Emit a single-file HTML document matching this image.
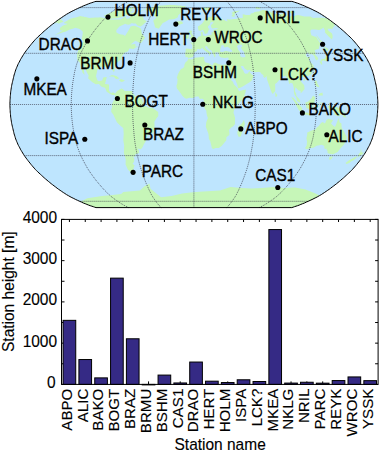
<!DOCTYPE html>
<html><head><meta charset="utf-8"><style>
html,body{margin:0;padding:0;background:#fff;}
svg{display:block;}
text{font-family:"Liberation Sans",sans-serif;font-size:15.3px;fill:#000;stroke:#000;stroke-width:0.35px;}
.ax{font-size:15.5px;stroke-width:0.12px;}
.xt{font-size:15.1px;stroke-width:0.12px;}
</style></head><body>
<svg width="379" height="455" viewBox="0 0 379 455">
<path d="M96.0 207.6L94.7 207.2L93.3 206.7L91.8 206.2L90.2 205.7L88.6 205.1L86.9 204.4L85.2 203.7L83.3 203.0L81.5 202.1L79.6 201.3L77.7 200.4L75.7 199.5L73.8 198.5L71.9 197.6L70.0 196.6L68.3 195.6L66.5 194.6L64.9 193.5L63.3 192.5L61.7 191.4L60.1 190.3L58.6 189.3L57.1 188.2L55.6 187.0L54.1 185.9L52.7 184.8L51.2 183.7L49.8 182.5L48.4 181.4L47.0 180.2L45.6 179.0L44.2 177.8L42.9 176.6L41.6 175.4L40.3 174.2L39.0 173.0L37.7 171.8L36.5 170.6L35.3 169.4L34.2 168.1L33.1 166.9L32.0 165.6L31.0 164.4L30.0 163.1L29.0 161.9L28.0 160.6L27.1 159.4L26.1 158.1L25.2 156.8L24.3 155.6L23.5 154.3L22.7 153.0L21.9 151.7L21.2 150.5L20.4 149.2L19.8 147.9L19.1 146.6L18.4 145.4L17.8 144.1L17.3 142.8L16.7 141.5L16.2 140.2L15.7 139.0L15.3 137.7L14.9 136.4L14.5 135.1L14.1 133.9L13.8 132.6L13.5 131.3L13.2 130.0L12.9 128.7L12.6 127.5L12.3 126.2L12.0 124.9L11.7 123.6L11.5 122.3L11.3 121.1L11.1 119.8L10.9 118.5L10.7 117.2L10.6 116.0L10.5 114.7L10.4 113.4L10.2 112.1L10.2 110.8L10.1 109.6L10.0 108.3L10.0 107.0L9.9 105.7L9.9 104.5L9.9 103.2L10.0 101.9L10.0 100.6L10.1 99.3L10.2 98.1L10.2 96.8L10.4 95.5L10.5 94.2L10.6 92.9L10.7 91.7L10.9 90.4L11.1 89.1L11.3 87.8L11.5 86.6L11.7 85.3L12.0 84.0L12.3 82.7L12.6 81.4L12.9 80.2L13.2 78.9L13.5 77.6L13.8 76.3L14.1 75.0L14.5 73.8L14.9 72.5L15.3 71.2L15.7 69.9L16.2 68.7L16.7 67.4L17.3 66.1L17.8 64.8L18.4 63.5L19.1 62.3L19.8 61.0L20.4 59.7L21.2 58.4L21.9 57.2L22.7 55.9L23.5 54.6L24.3 53.3L25.2 52.1L26.1 50.8L27.1 49.5L28.0 48.3L29.0 47.0L30.0 45.8L31.0 44.5L32.0 43.3L33.1 42.0L34.2 40.8L35.3 39.5L36.5 38.3L37.7 37.1L39.0 35.9L40.3 34.7L41.6 33.5L42.9 32.3L44.2 31.1L45.6 29.9L47.0 28.7L48.4 27.5L49.8 26.4L51.2 25.2L52.7 24.1L54.1 23.0L55.6 21.9L57.1 20.7L58.6 19.6L60.1 18.6L61.7 17.5L63.3 16.4L64.9 15.4L66.5 14.3L68.3 13.3L70.0 12.3L71.9 11.3L73.8 10.4L75.7 9.4L77.7 8.5L79.6 7.6L81.5 6.8L83.3 5.9L85.2 5.2L86.9 4.5L88.6 3.8L90.2 3.2L91.8 2.7L93.3 2.2L94.7 1.7L96.0 1.4L291.8 1.4L293.1 1.7L294.5 2.2L296.0 2.7L297.6 3.2L299.2 3.8L300.9 4.5L302.6 5.2L304.5 5.9L306.3 6.8L308.2 7.6L310.1 8.5L312.1 9.4L314.0 10.4L315.9 11.3L317.8 12.3L319.5 13.3L321.3 14.3L322.9 15.4L324.5 16.4L326.1 17.5L327.7 18.6L329.2 19.6L330.7 20.7L332.2 21.9L333.7 23.0L335.1 24.1L336.6 25.2L338.0 26.4L339.4 27.5L340.8 28.7L342.2 29.9L343.6 31.1L344.9 32.3L346.2 33.5L347.5 34.7L348.8 35.9L350.1 37.1L351.3 38.3L352.5 39.5L353.6 40.8L354.7 42.0L355.8 43.3L356.8 44.5L357.8 45.8L358.8 47.0L359.8 48.3L360.7 49.5L361.7 50.8L362.6 52.1L363.5 53.3L364.3 54.6L365.1 55.9L365.9 57.2L366.6 58.4L367.4 59.7L368.0 61.0L368.7 62.3L369.4 63.5L370.0 64.8L370.5 66.1L371.1 67.4L371.6 68.7L372.1 69.9L372.5 71.2L372.9 72.5L373.3 73.8L373.7 75.0L374.0 76.3L374.3 77.6L374.6 78.9L374.9 80.2L375.2 81.4L375.5 82.7L375.8 84.0L376.1 85.3L376.3 86.6L376.5 87.8L376.7 89.1L376.9 90.4L377.1 91.7L377.2 92.9L377.3 94.2L377.4 95.5L377.6 96.8L377.6 98.1L377.7 99.3L377.8 100.6L377.8 101.9L377.9 103.2L377.9 104.5L377.9 105.7L377.8 107.0L377.8 108.3L377.7 109.6L377.6 110.8L377.6 112.1L377.4 113.4L377.3 114.7L377.2 116.0L377.1 117.2L376.9 118.5L376.7 119.8L376.5 121.1L376.3 122.3L376.1 123.6L375.8 124.9L375.5 126.2L375.2 127.5L374.9 128.7L374.6 130.0L374.3 131.3L374.0 132.6L373.7 133.9L373.3 135.1L372.9 136.4L372.5 137.7L372.1 139.0L371.6 140.2L371.1 141.5L370.5 142.8L370.0 144.1L369.4 145.4L368.7 146.6L368.0 147.9L367.4 149.2L366.6 150.5L365.9 151.7L365.1 153.0L364.3 154.3L363.5 155.6L362.6 156.8L361.7 158.1L360.7 159.4L359.8 160.6L358.8 161.9L357.8 163.1L356.8 164.4L355.8 165.6L354.7 166.9L353.6 168.1L352.5 169.4L351.3 170.6L350.1 171.8L348.8 173.0L347.5 174.2L346.2 175.4L344.9 176.6L343.6 177.8L342.2 179.0L340.8 180.2L339.4 181.4L338.0 182.5L336.6 183.7L335.1 184.8L333.7 185.9L332.2 187.0L330.7 188.2L329.2 189.3L327.7 190.3L326.1 191.4L324.5 192.5L322.9 193.5L321.3 194.6L319.5 195.6L317.8 196.6L315.9 197.6L314.0 198.5L312.1 199.5L310.1 200.4L308.2 201.3L306.3 202.1L304.5 203.0L302.6 203.7L300.9 204.4L299.2 205.1L297.6 205.7L296.0 206.2L294.5 206.7L293.1 207.2L291.8 207.6Z" fill="#bee5fe"/>
<clipPath id="c"><path d="M96.0 207.6L94.7 207.2L93.3 206.7L91.8 206.2L90.2 205.7L88.6 205.1L86.9 204.4L85.2 203.7L83.3 203.0L81.5 202.1L79.6 201.3L77.7 200.4L75.7 199.5L73.8 198.5L71.9 197.6L70.0 196.6L68.3 195.6L66.5 194.6L64.9 193.5L63.3 192.5L61.7 191.4L60.1 190.3L58.6 189.3L57.1 188.2L55.6 187.0L54.1 185.9L52.7 184.8L51.2 183.7L49.8 182.5L48.4 181.4L47.0 180.2L45.6 179.0L44.2 177.8L42.9 176.6L41.6 175.4L40.3 174.2L39.0 173.0L37.7 171.8L36.5 170.6L35.3 169.4L34.2 168.1L33.1 166.9L32.0 165.6L31.0 164.4L30.0 163.1L29.0 161.9L28.0 160.6L27.1 159.4L26.1 158.1L25.2 156.8L24.3 155.6L23.5 154.3L22.7 153.0L21.9 151.7L21.2 150.5L20.4 149.2L19.8 147.9L19.1 146.6L18.4 145.4L17.8 144.1L17.3 142.8L16.7 141.5L16.2 140.2L15.7 139.0L15.3 137.7L14.9 136.4L14.5 135.1L14.1 133.9L13.8 132.6L13.5 131.3L13.2 130.0L12.9 128.7L12.6 127.5L12.3 126.2L12.0 124.9L11.7 123.6L11.5 122.3L11.3 121.1L11.1 119.8L10.9 118.5L10.7 117.2L10.6 116.0L10.5 114.7L10.4 113.4L10.2 112.1L10.2 110.8L10.1 109.6L10.0 108.3L10.0 107.0L9.9 105.7L9.9 104.5L9.9 103.2L10.0 101.9L10.0 100.6L10.1 99.3L10.2 98.1L10.2 96.8L10.4 95.5L10.5 94.2L10.6 92.9L10.7 91.7L10.9 90.4L11.1 89.1L11.3 87.8L11.5 86.6L11.7 85.3L12.0 84.0L12.3 82.7L12.6 81.4L12.9 80.2L13.2 78.9L13.5 77.6L13.8 76.3L14.1 75.0L14.5 73.8L14.9 72.5L15.3 71.2L15.7 69.9L16.2 68.7L16.7 67.4L17.3 66.1L17.8 64.8L18.4 63.5L19.1 62.3L19.8 61.0L20.4 59.7L21.2 58.4L21.9 57.2L22.7 55.9L23.5 54.6L24.3 53.3L25.2 52.1L26.1 50.8L27.1 49.5L28.0 48.3L29.0 47.0L30.0 45.8L31.0 44.5L32.0 43.3L33.1 42.0L34.2 40.8L35.3 39.5L36.5 38.3L37.7 37.1L39.0 35.9L40.3 34.7L41.6 33.5L42.9 32.3L44.2 31.1L45.6 29.9L47.0 28.7L48.4 27.5L49.8 26.4L51.2 25.2L52.7 24.1L54.1 23.0L55.6 21.9L57.1 20.7L58.6 19.6L60.1 18.6L61.7 17.5L63.3 16.4L64.9 15.4L66.5 14.3L68.3 13.3L70.0 12.3L71.9 11.3L73.8 10.4L75.7 9.4L77.7 8.5L79.6 7.6L81.5 6.8L83.3 5.9L85.2 5.2L86.9 4.5L88.6 3.8L90.2 3.2L91.8 2.7L93.3 2.2L94.7 1.7L96.0 1.4L291.8 1.4L293.1 1.7L294.5 2.2L296.0 2.7L297.6 3.2L299.2 3.8L300.9 4.5L302.6 5.2L304.5 5.9L306.3 6.8L308.2 7.6L310.1 8.5L312.1 9.4L314.0 10.4L315.9 11.3L317.8 12.3L319.5 13.3L321.3 14.3L322.9 15.4L324.5 16.4L326.1 17.5L327.7 18.6L329.2 19.6L330.7 20.7L332.2 21.9L333.7 23.0L335.1 24.1L336.6 25.2L338.0 26.4L339.4 27.5L340.8 28.7L342.2 29.9L343.6 31.1L344.9 32.3L346.2 33.5L347.5 34.7L348.8 35.9L350.1 37.1L351.3 38.3L352.5 39.5L353.6 40.8L354.7 42.0L355.8 43.3L356.8 44.5L357.8 45.8L358.8 47.0L359.8 48.3L360.7 49.5L361.7 50.8L362.6 52.1L363.5 53.3L364.3 54.6L365.1 55.9L365.9 57.2L366.6 58.4L367.4 59.7L368.0 61.0L368.7 62.3L369.4 63.5L370.0 64.8L370.5 66.1L371.1 67.4L371.6 68.7L372.1 69.9L372.5 71.2L372.9 72.5L373.3 73.8L373.7 75.0L374.0 76.3L374.3 77.6L374.6 78.9L374.9 80.2L375.2 81.4L375.5 82.7L375.8 84.0L376.1 85.3L376.3 86.6L376.5 87.8L376.7 89.1L376.9 90.4L377.1 91.7L377.2 92.9L377.3 94.2L377.4 95.5L377.6 96.8L377.6 98.1L377.7 99.3L377.8 100.6L377.8 101.9L377.9 103.2L377.9 104.5L377.9 105.7L377.8 107.0L377.8 108.3L377.7 109.6L377.6 110.8L377.6 112.1L377.4 113.4L377.3 114.7L377.2 116.0L377.1 117.2L376.9 118.5L376.7 119.8L376.5 121.1L376.3 122.3L376.1 123.6L375.8 124.9L375.5 126.2L375.2 127.5L374.9 128.7L374.6 130.0L374.3 131.3L374.0 132.6L373.7 133.9L373.3 135.1L372.9 136.4L372.5 137.7L372.1 139.0L371.6 140.2L371.1 141.5L370.5 142.8L370.0 144.1L369.4 145.4L368.7 146.6L368.0 147.9L367.4 149.2L366.6 150.5L365.9 151.7L365.1 153.0L364.3 154.3L363.5 155.6L362.6 156.8L361.7 158.1L360.7 159.4L359.8 160.6L358.8 161.9L357.8 163.1L356.8 164.4L355.8 165.6L354.7 166.9L353.6 168.1L352.5 169.4L351.3 170.6L350.1 171.8L348.8 173.0L347.5 174.2L346.2 175.4L344.9 176.6L343.6 177.8L342.2 179.0L340.8 180.2L339.4 181.4L338.0 182.5L336.6 183.7L335.1 184.8L333.7 185.9L332.2 187.0L330.7 188.2L329.2 189.3L327.7 190.3L326.1 191.4L324.5 192.5L322.9 193.5L321.3 194.6L319.5 195.6L317.8 196.6L315.9 197.6L314.0 198.5L312.1 199.5L310.1 200.4L308.2 201.3L306.3 202.1L304.5 203.0L302.6 203.7L300.9 204.4L299.2 205.1L297.6 205.7L296.0 206.2L294.5 206.7L293.1 207.2L291.8 207.6Z"/></clipPath>
<g clip-path="url(#c)"><path d="M64.1 22.4L70.4 18.7L73.0 18.0L75.6 17.4L78.2 16.7L80.7 16.1L82.0 16.4L83.3 16.6L84.6 16.9L85.9 17.1L87.2 17.4L88.5 17.7L89.8 17.9L91.6 17.8L93.3 17.7L95.0 17.6L96.7 17.5L98.4 17.4L100.1 17.3L101.4 17.5L102.8 17.8L104.2 18.0L105.6 18.3L106.9 18.6L108.4 18.9L109.8 19.3L111.2 19.6L112.7 19.6L114.2 19.6L115.7 19.6L117.2 19.6L118.7 19.6L120.2 19.6L123.0 18.0L125.7 16.4L126.1 17.8L126.6 19.1L128.9 18.6L131.1 18.0L131.2 21.3L128.7 23.0L126.8 23.5L124.8 24.1L122.2 25.2L119.4 26.4L116.4 29.9L116.3 32.3L117.7 33.2L119.1 34.1L121.3 34.4L123.5 34.7L125.0 35.9L126.6 33.5L128.8 29.9L130.6 26.4L132.4 26.0L134.2 25.7L135.9 26.3L137.6 27.0L139.3 27.7L141.0 28.4L141.4 30.9L141.8 33.5L143.4 35.6L145.1 37.7L143.0 40.5L140.8 43.3L139.0 42.4L137.2 41.6L135.3 40.8L133.0 42.6L130.6 44.5L132.9 44.2L135.3 43.9L135.4 46.4L138.2 46.4L135.8 47.6L133.4 48.9L131.3 48.7L129.3 48.5L128.1 51.2L124.4 52.7L121.3 57.2L121.2 59.4L118.0 61.8L114.8 64.2L114.7 67.1L114.7 69.9L114.0 72.2L112.6 70.6L111.5 66.1L109.1 65.9L106.6 65.7L105.3 67.4L103.4 67.0L101.5 66.6L97.5 69.3L96.9 72.5L96.0 76.3L97.3 80.2L98.7 81.2L102.3 80.4L103.2 77.6L106.8 77.0L105.9 80.5L105.0 84.0L107.0 84.3L109.0 84.6L109.0 87.5L109.0 90.4L110.9 93.2L113.0 92.3L115.2 93.6L114.9 94.9L112.3 95.1L110.3 94.0L106.7 91.7L105.1 87.8L103.2 87.2L101.2 86.6L98.9 84.0L95.8 84.3L94.0 83.2L92.1 82.1L90.1 80.2L88.1 78.2L88.7 75.7L86.6 71.8L85.1 68.3L83.9 64.8L83.7 67.4L83.9 69.9L84.2 72.5L84.5 75.0L82.5 72.5L81.4 68.7L80.4 65.5L80.1 62.9L77.5 60.3L77.1 56.5L77.4 52.7L78.5 49.5L81.3 45.1L82.1 42.8L84.0 42.0L82.8 40.8L81.6 39.5L82.5 35.3L82.8 31.7L81.9 30.8L81.0 29.9L79.4 28.9L78.1 28.6L76.9 28.2L75.6 27.8L72.7 28.7L69.8 29.5L65.3 31.7L63.0 32.3L60.8 32.9L57.7 33.9L54.5 34.9L58.8 32.7L63.1 30.5L61.6 30.4L60.0 30.2L59.8 28.1L63.0 25.5L67.8 23.9L66.1 23.6L64.4 23.4ZM125.6 24.1L127.5 22.4L130.0 22.1L130.9 23.9L128.4 24.7L127.0 24.4ZM130.4 17.0L132.0 17.1L133.5 17.3L135.1 17.5L136.1 18.8L137.2 20.2L133.2 23.2L131.6 23.2L130.1 23.2L128.5 23.2L127.8 20.7ZM103.7 15.9L106.9 14.3L110.0 12.8L113.3 11.6L116.5 10.4L118.3 10.0L120.1 9.6L121.8 9.3L123.6 8.9L125.2 8.6L126.9 8.3L128.5 8.1L130.2 7.8L131.8 7.5L133.3 7.3L134.9 7.0L136.4 6.8L138.3 6.4L140.1 6.1L142.0 5.7L143.4 5.6L144.8 5.5L146.2 5.4L147.6 5.4L149.0 5.3L150.4 5.2L151.5 5.3L152.6 5.4L153.7 5.5L154.8 5.7L155.9 5.8L154.2 6.4L152.5 7.0L150.7 7.6L148.6 8.3L146.4 8.9L143.9 9.9L141.4 10.8L139.8 13.8L138.1 13.7L136.5 13.5L134.9 13.7L133.4 13.9L131.8 14.1L130.2 14.3L128.0 14.9L125.8 15.4L123.1 16.4L120.4 17.5L119.0 17.5L117.5 17.5L116.0 17.5L114.6 17.5L113.1 17.5L111.7 17.4L110.4 17.3L109.0 17.2L107.6 17.1L106.3 17.0L105.0 16.4ZM146.2 9.1L148.1 8.6L149.9 8.0L151.8 7.5L153.6 6.9L155.3 6.4L157.0 5.9L158.4 5.8L159.7 5.7L161.0 5.6L162.3 5.5L163.6 5.4L164.9 5.3L166.1 5.2L167.4 5.0L168.7 4.9L169.9 4.8L171.1 4.9L172.2 5.0L173.4 5.1L174.6 5.1L175.8 5.2L176.9 5.3L178.1 5.4L179.3 5.5L180.5 5.6L181.7 5.7L182.9 5.9L184.1 6.0L185.3 6.2L186.5 6.3L185.1 7.1L183.7 7.8L182.3 8.6L180.8 9.4L181.2 12.3L178.1 15.4L177.8 17.3L176.1 18.2L174.5 19.1L172.7 19.3L170.9 19.5L169.1 19.6L167.0 20.7L165.0 21.9L162.8 23.0L160.8 25.8L158.8 28.7L156.9 28.1L155.1 27.5L154.1 23.5L153.2 20.7L156.4 17.5L155.3 16.7L154.2 15.9L154.4 12.8L153.1 12.4L151.7 12.1L150.4 11.7L149.2 11.3L148.1 10.6L147.1 9.8ZM136.5 13.5L137.6 13.9L138.7 14.3L139.8 14.8L140.8 15.4L141.8 16.1L142.8 16.8L143.9 19.6L145.4 20.5L146.9 21.3L143.0 24.7L140.7 26.4L139.1 25.9L137.5 25.5L135.7 23.5L133.0 23.5L132.8 21.3L134.0 18.0L132.4 17.8L130.7 17.5L129.7 15.9L133.5 13.7L135.0 13.6ZM108.1 15.9L110.6 14.9L113.1 13.8L114.5 13.8L115.9 13.8L117.4 13.8L118.8 13.8L120.2 13.7L121.1 15.4L119.7 17.5L117.5 18.0L115.2 18.5L113.3 18.6L111.4 18.8L109.5 19.0L108.3 18.5L107.1 18.0ZM133.4 10.8L134.7 10.9L136.0 10.9L137.3 11.0L138.6 11.0L139.9 11.0L142.5 10.0L145.1 8.9L146.9 8.4L148.8 7.9L150.6 7.4L152.4 6.9L154.1 6.4L155.8 5.9L154.8 5.8L153.7 5.6L152.6 5.4L151.6 5.2L150.3 5.2L148.9 5.3L147.6 5.3L146.2 5.4L144.8 5.5L143.5 5.5L142.1 5.6L140.3 5.9L138.4 6.3L136.4 6.8L133.7 8.0L130.9 9.4L131.7 9.9L132.5 10.4ZM130.1 12.8L131.5 12.8L132.9 12.8L134.3 12.8L135.7 12.8L137.1 12.8L138.4 12.8L139.7 11.3L138.4 11.2L137.1 11.2L135.8 11.1L134.6 11.0L133.3 10.9L132.0 10.8ZM104.1 15.6L107.4 14.2L110.7 12.8L111.5 13.5L112.4 14.1L109.9 15.2L107.4 16.2L104.6 16.4ZM114.6 11.3L116.0 11.2L117.5 11.2L118.9 11.1L120.4 11.0L121.8 10.9L123.3 10.8L124.1 11.6L125.1 12.3L123.6 12.4L122.2 12.4L120.8 12.5L119.3 12.6L117.9 12.6L116.4 12.5L114.9 12.4L113.4 12.3ZM115.2 93.6L117.1 91.0L119.2 89.8L121.3 88.6L122.8 89.1L124.7 91.0L126.8 91.0L128.8 90.9L131.9 91.0L132.8 93.6L135.7 96.8L137.8 97.1L139.8 97.4L141.8 99.3L142.8 102.5L142.8 104.5L144.8 105.7L148.4 107.6L150.7 108.0L153.0 108.3L156.1 110.6L158.2 112.1L158.3 116.0L156.3 118.5L154.4 121.7L154.5 124.3L154.6 126.8L153.7 130.0L152.9 132.6L151.0 133.9L147.6 135.1L145.8 138.3L145.9 140.9L144.0 144.1L142.5 147.3L140.9 149.2L137.4 148.6L138.9 150.5L139.2 153.0L137.2 153.7L135.2 154.3L135.4 156.5L133.0 156.8L134.4 158.7L133.9 161.9L132.6 163.8L134.6 165.6L133.3 168.7L133.6 170.6L134.7 172.4L135.9 174.2L133.3 174.2L130.1 171.8L127.8 169.4L126.7 166.9L125.6 164.4L125.7 160.6L125.4 158.1L124.6 155.6L123.9 153.0L124.0 149.2L124.2 145.4L123.7 142.8L123.3 140.2L123.5 137.1L123.7 133.9L123.5 130.9L123.2 128.0L121.3 126.4L119.1 124.4L116.9 122.3L115.7 119.8L114.5 117.2L113.4 114.7L111.3 112.1L111.2 109.6L112.2 107.0L111.6 104.5L112.7 102.5L113.7 100.6L114.8 99.3L115.1 95.5ZM185.6 49.5L186.5 48.6L188.4 48.8L190.2 48.9L192.1 49.0L192.5 45.8L191.6 44.1L189.9 42.6L192.6 42.4L193.9 41.4L195.2 40.2L196.5 39.2L197.8 37.7L198.2 36.7L201.2 36.1L201.1 34.1L200.6 32.3L202.7 31.4L202.8 33.2L202.9 35.5L205.9 35.9L207.8 35.4L209.7 35.0L211.8 34.7L211.5 32.3L213.6 32.0L213.8 30.7L213.2 29.7L215.0 29.4L216.8 29.2L218.4 28.7L215.8 28.1L214.0 28.2L212.2 28.4L211.2 27.0L210.8 25.2L213.3 23.0L213.6 22.2L210.8 22.1L209.7 24.7L207.9 26.4L208.1 28.0L209.4 28.9L208.7 29.9L207.7 32.3L207.4 33.2L204.9 34.1L204.4 32.9L203.0 30.1L202.1 29.9L200.6 31.1L198.5 30.5L198.0 28.1L197.9 26.4L199.5 25.5L202.1 23.5L203.8 21.3L204.8 19.6L205.8 18.3L207.5 17.5L209.1 17.2L210.7 16.8L212.6 16.3L215.0 16.7L216.6 17.2L218.3 18.2L220.7 18.6L222.8 19.4L224.9 20.2L225.1 20.7L227.6 21.6L226.8 19.1L228.5 19.6L230.3 19.5L232.1 19.3L233.9 19.1L235.5 18.9L237.1 18.8L238.4 17.7L240.6 17.9L242.7 18.0L242.7 14.3L244.3 14.6L245.9 14.9L247.3 14.9L248.7 14.9L250.2 14.9L250.7 13.6L252.3 13.2L253.9 12.8L253.8 12.3L255.1 12.1L256.4 11.8L257.6 11.6L258.9 11.4L260.1 11.1L261.0 10.6L261.9 10.2L262.7 9.7L265.5 10.5L267.7 10.9L269.8 11.3L273.7 13.8L275.9 14.1L278.1 14.3L279.6 14.2L281.0 14.0L282.5 13.8L285.8 14.9L289.0 16.4L290.3 16.3L291.6 16.2L292.9 16.0L294.2 15.9L295.5 15.6L296.8 15.3L298.2 15.1L300.3 15.6L302.4 16.1L304.5 16.6L305.9 16.6L307.4 16.6L308.9 16.6L310.3 16.6L312.9 18.0L314.4 17.9L316.0 17.8L317.6 17.7L319.1 17.7L320.5 17.7L322.0 17.7L323.5 17.7L325.7 18.2L328.0 18.8L333.7 23.0L334.9 25.8L334.0 26.4L333.1 27.0L332.7 28.7L331.0 28.7L329.4 28.7L327.5 28.8L328.6 31.1L331.8 33.2L332.5 35.0L332.7 37.1L331.9 39.5L328.7 36.5L324.8 32.3L325.3 31.1L323.3 27.5L322.2 28.4L321.0 29.3L319.2 29.9L317.3 29.7L315.5 29.5L313.5 29.5L311.4 29.5L310.3 31.1L311.3 35.3L313.8 36.2L316.2 37.1L318.3 40.2L320.2 43.3L319.6 45.8L318.7 48.9L316.3 49.5L314.7 50.2L315.6 52.7L315.1 54.6L317.6 57.2L318.3 59.3L316.1 60.5L314.7 57.4L314.5 56.3L312.0 54.0L308.9 54.6L307.9 52.3L305.6 54.5L306.0 55.9L307.6 57.2L310.7 56.6L309.5 58.4L308.9 60.0L311.8 63.5L313.2 64.9L313.8 66.7L312.8 70.6L311.1 74.2L307.9 75.9L304.6 77.3L303.9 77.0L302.0 76.8L300.8 78.5L300.2 80.2L301.9 82.7L304.2 85.3L304.6 89.1L302.7 91.2L300.8 93.3L300.6 92.9L300.7 91.0L298.6 90.4L296.4 88.2L295.3 87.3L294.8 91.3L296.1 93.6L296.4 96.1L299.5 99.3L300.4 102.7L299.6 102.5L297.1 100.9L296.3 97.4L294.3 94.2L293.9 91.7L293.8 87.8L292.6 83.4L290.8 82.7L289.2 84.0L288.5 80.8L286.6 77.6L285.7 75.7L284.4 76.3L283.0 76.6L281.0 77.0L280.7 78.9L279.2 79.9L276.9 82.7L275.1 84.1L275.3 87.6L275.1 91.3L273.5 93.1L272.9 94.1L271.9 93.1L270.6 89.7L269.3 85.9L268.3 83.0L267.3 80.2L266.7 77.3L266.5 75.9L264.6 77.9L262.9 75.9L263.8 75.2L261.9 74.3L260.1 72.0L257.6 72.1L255.0 72.2L252.9 71.8L250.8 71.5L249.7 69.8L247.4 70.3L244.8 68.8L243.2 66.1L241.0 66.1L241.1 66.7L241.8 68.7L243.3 70.6L244.1 72.5L245.2 73.8L247.7 73.5L249.5 71.1L250.0 72.6L251.5 74.2L253.7 75.7L252.6 78.2L251.9 80.2L249.7 82.3L246.7 84.0L244.0 85.7L241.8 86.9L239.6 88.1L238.0 88.2L237.2 84.6L236.8 83.4L235.1 79.5L232.9 76.7L232.3 73.8L230.7 71.8L228.6 68.7L228.2 66.7L227.3 64.4L227.7 63.5L227.9 62.3L228.5 60.1L228.5 58.6L228.6 57.7L226.9 57.4L225.1 58.3L223.1 57.8L221.0 57.4L219.8 56.5L218.9 55.5L219.1 54.0L218.6 53.2L218.5 52.6L216.4 52.3L215.4 52.6L215.2 54.0L215.7 55.5L214.9 57.2L214.5 57.4L213.8 55.5L213.1 54.1L212.2 52.7L212.1 51.1L211.1 50.2L208.7 48.9L207.2 46.8L206.4 46.1L205.1 46.6L205.4 48.0L206.5 48.9L208.8 50.9L211.3 53.1L210.0 54.6L209.6 55.6L208.8 55.9L209.0 54.0L208.6 53.2L207.5 52.6L206.1 51.7L205.1 50.8L203.6 49.5L202.2 47.8L201.3 48.4L199.9 49.4L198.1 48.9L196.8 49.5L196.9 50.9L194.8 52.1L193.9 53.8L193.6 55.2L193.3 56.4L191.9 57.5L189.6 57.7L188.5 58.4L187.9 57.4L186.8 56.9L185.4 57.2L185.6 55.0L185.0 54.1L185.7 50.8ZM188.2 58.7L192.0 59.6L194.9 57.8L197.2 57.4L199.3 57.2L201.3 57.0L203.3 56.8L204.4 57.0L204.0 58.4L204.3 60.3L205.1 62.3L208.7 63.2L212.5 65.7L213.4 63.3L215.3 62.4L218.3 64.1L220.3 64.5L222.3 64.9L225.5 64.4L227.3 64.4L228.2 66.7L227.1 68.9L225.8 66.2L227.0 69.3L229.4 73.9L231.2 77.6L231.5 80.7L232.8 81.6L234.0 84.6L235.6 85.9L237.9 88.5L237.9 89.2L239.2 91.2L242.4 90.3L246.0 89.4L245.8 90.4L245.3 92.9L243.9 96.8L242.4 99.3L239.9 102.3L236.8 105.7L235.0 108.0L233.9 110.5L233.5 112.8L234.2 114.7L235.1 117.9L235.0 120.9L235.0 123.9L233.3 126.2L231.2 127.5L229.0 130.0L229.4 132.7L229.3 135.1L226.7 136.9L226.3 137.7L226.4 140.2L224.3 142.7L221.6 146.1L218.8 147.9L215.7 147.9L213.2 148.9L211.8 148.0L211.3 145.4L210.2 141.0L208.9 139.0L208.7 136.3L208.4 133.7L207.0 130.0L205.8 126.4L206.3 122.3L207.9 118.1L207.1 116.0L206.4 112.2L206.4 110.8L205.1 109.3L203.4 105.1L203.6 103.2L203.9 100.6L203.5 99.5L202.6 98.7L201.0 98.8L199.9 99.0L198.5 96.4L195.9 96.4L192.9 97.9L189.8 97.8L186.2 98.8L184.7 98.1L182.3 95.8L180.5 93.1L178.6 90.5L176.9 88.6L176.4 85.7L177.2 83.7L177.6 79.1L176.8 77.9L177.9 74.2L179.5 71.2L181.2 68.8L182.6 68.5L184.3 66.7L184.4 64.8L185.7 61.9L187.3 61.0ZM244.0 119.8L244.9 124.1L244.1 126.2L242.6 130.7L241.7 133.5L240.9 136.3L238.8 137.1L237.5 134.5L237.3 131.9L238.5 129.8L238.3 126.2L240.8 124.6L242.2 123.1ZM307.2 132.6L308.0 132.3L310.9 130.8L313.2 130.1L315.5 129.4L317.0 127.2L318.5 126.2L321.0 123.0L322.6 122.1L325.0 123.5L326.2 120.4L328.1 118.8L330.0 119.3L332.0 119.8L333.0 120.3L331.0 123.6L333.0 125.4L335.0 127.1L336.4 123.8L337.6 120.6L338.8 118.1L339.6 122.3L341.4 123.6L341.7 128.1L344.0 131.3L345.5 134.7L346.7 136.9L345.9 141.0L343.8 144.7L341.0 147.8L337.6 152.1L333.1 154.3L329.9 154.0L327.5 153.0L327.6 151.1L326.6 150.0L326.7 148.6L325.1 148.9L324.4 148.6L324.3 146.0L321.8 144.7L319.2 145.2L316.6 145.7L313.4 147.8L311.4 148.0L309.4 148.2L307.3 149.3L305.0 148.3L306.7 145.4L307.0 141.5L306.4 138.3L307.2 135.1ZM329.6 156.5L333.0 156.7L330.9 159.6L329.5 160.1L329.1 158.4ZM360.7 148.4L361.4 150.5L361.6 152.4L363.9 152.6L362.2 154.6L360.9 154.9L357.7 157.6L357.3 157.2L358.7 155.3L358.3 154.6L360.7 151.7ZM356.2 156.2L356.6 157.7L354.4 159.4L353.2 160.4L351.2 161.3L349.3 163.0L346.6 163.9L345.5 163.1L348.7 160.6L353.3 158.1ZM327.8 106.0L330.9 105.6L331.8 108.7L334.9 106.5L338.0 107.8L341.5 109.3L342.7 111.4L344.4 112.1L345.0 115.3L346.5 117.6L343.5 117.2L342.7 114.7L340.7 114.2L339.5 116.2L337.5 116.0L335.5 114.8L334.5 115.2L334.3 111.1L331.7 110.1L329.7 109.7L328.8 108.0ZM305.3 102.5L305.9 105.7L306.5 108.3L308.7 108.8L310.8 109.3L312.4 108.9L313.0 105.7L314.4 103.2L314.9 98.6L315.6 97.7L313.2 95.5L312.3 96.8L311.8 98.1L309.3 100.6L307.3 102.1ZM291.2 97.3L293.4 97.8L296.6 101.9L300.2 105.7L302.2 108.3L301.9 111.9L300.5 112.0L298.4 109.6L296.4 105.7L294.7 102.3ZM301.2 113.1L302.1 112.0L304.6 112.8L307.1 112.6L310.6 114.3L310.5 115.6L308.3 115.2L306.0 114.8L302.5 113.9ZM315.8 111.5L316.8 111.6L317.0 107.9L318.1 106.9L319.9 105.6L317.6 105.7L317.6 102.8L321.2 103.8L321.9 102.5L319.7 102.7L317.5 102.8L316.4 104.3L315.3 107.8ZM314.7 80.8L316.9 80.8L317.4 83.4L319.6 87.2L317.0 86.8L316.0 86.0L315.0 84.0ZM318.3 95.5L320.6 95.5L322.9 95.5L322.4 92.6L319.7 93.5ZM320.5 61.0L321.4 59.2L324.6 58.8L325.3 57.2L326.3 55.2L325.8 53.3L325.0 51.6L326.3 51.7L328.0 54.0L328.0 55.9L329.2 58.4L329.1 59.7L328.0 60.1L326.1 60.2L325.2 61.6L323.8 60.3L322.5 60.7ZM319.6 61.6L321.6 61.1L322.3 64.3L321.5 64.8L320.1 62.8ZM324.8 51.4L325.7 51.2L327.5 50.8L328.6 49.2L327.3 48.3L323.5 46.5L324.8 49.3L324.0 50.2ZM323.2 45.8L324.2 45.1L321.6 42.0L322.5 42.0L319.9 39.5L316.8 35.5L316.2 35.5L318.5 38.9L321.4 43.3ZM313.8 75.0L314.2 72.1L315.2 72.5L314.8 76.3ZM303.1 79.9L304.8 78.8L305.4 79.4L304.2 81.2ZM275.1 91.9L277.4 94.9L276.5 96.8L275.5 96.7ZM188.8 40.8L191.0 40.3L193.1 39.9L195.2 39.4L195.4 37.5L194.1 36.5L192.8 35.1L192.2 33.6L191.1 33.3L192.4 31.5L191.3 30.4L189.8 30.4L188.7 31.7L189.2 33.1L189.7 34.5L191.3 34.8L191.1 36.7L189.9 37.3L189.3 38.7L191.3 39.0ZM188.7 38.1L188.6 36.0L189.2 35.1L187.9 34.3L186.6 34.7L185.3 36.0L184.9 38.4L186.9 38.8ZM175.4 22.4L177.1 21.4L179.2 21.3L181.3 21.3L182.7 22.4L183.3 23.0L182.2 23.8L179.3 24.8L177.7 24.6L176.1 24.3ZM201.0 8.7L202.6 8.1L204.1 7.6L205.3 7.5L206.6 7.4L207.8 7.3L209.4 7.5L211.0 7.6L209.6 9.0L208.1 9.9L206.6 10.3L205.0 10.7L202.8 9.4ZM231.4 15.9L233.0 14.0L231.6 13.3L232.8 11.8L234.3 11.5L235.8 11.1L237.1 10.9L238.4 10.7L239.7 10.5L238.8 11.6L237.7 12.0L236.6 12.4L235.5 12.8L234.5 14.9L234.7 16.7L232.5 16.6ZM255.3 8.5L255.8 7.6L256.4 6.8L258.7 7.4L261.1 8.0L260.2 8.6L259.2 9.1L257.2 8.8ZM286.8 11.8L287.9 11.7L289.0 11.5L290.2 11.3L292.0 11.5L293.8 11.7L295.7 11.8L295.1 12.3L294.4 12.8L293.7 13.3L293.0 13.8L289.9 12.8ZM60.0 18.7L60.6 19.2L61.4 19.8L62.1 20.4L62.8 21.1L63.6 21.7L61.4 22.4L58.6 23.8L57.4 22.5L54.7 23.3L54.1 23.0ZM108.8 76.6L112.0 74.9L114.4 75.6L116.9 76.3L119.4 78.6L115.9 79.0L113.8 76.7L111.3 76.6ZM119.0 80.8L120.8 79.0L122.9 79.8L125.1 80.7L121.8 81.9ZM81 201.4L87.4 198.2L102.2 196.1L112.7 195L121.2 194L123.3 191.9L140 190.5L144.2 186.6L149.5 183.4L150.5 188.7L161 197.2L171.6 196.1L182.2 193.6L192.7 192.3L203.3 191.5L220 190.5L230.5 186.9L241 187.9L251.6 188.6L262.2 187.9L272.7 186.9L283.3 187.9L295 187.4L305.5 189.5L316 193.8L322 197L330 215L70 215Z" fill="#c6f6b8"/><path d="M220.1 51.7L220.3 49.0L221.5 45.5L222.0 45.0L224.4 45.8L223.6 46.5L224.7 47.6L226.3 47.0L227.3 46.8L228.8 47.6L230.4 48.9L232.7 51.3L230.9 52.1L227.5 51.2L225.6 50.8L222.9 51.9ZM238.4 45.1L240.5 44.5L242.0 44.9L242.4 46.6L240.8 47.6L242.8 50.8L244.5 52.2L243.8 53.3L245.1 55.2L245.4 56.9L242.7 57.5L240.6 56.5L240.1 54.7L240.5 53.0L239.2 51.1L237.9 49.5L237.5 47.6L236.8 46.4Z" fill="#bee5fe"/></g>
<path d="M79.6 201.3L80.9 201.3L82.1 201.3L83.4 201.3L84.7 201.3L85.9 201.3L87.2 201.3L88.5 201.3L89.7 201.3L91.0 201.3L92.3 201.3L93.6 201.3L94.8 201.3L96.1 201.3L97.4 201.3L98.6 201.3L99.9 201.3L101.2 201.3L102.4 201.3L103.7 201.3L105.0 201.3L106.3 201.3L107.5 201.3L108.8 201.3L110.1 201.3L111.3 201.3L112.6 201.3L113.9 201.3L115.1 201.3L116.4 201.3L117.7 201.3L119.0 201.3L120.2 201.3L121.5 201.3L122.8 201.3L124.0 201.3L125.3 201.3L126.6 201.3L127.8 201.3L129.1 201.3L130.4 201.3L131.7 201.3L132.9 201.3L134.2 201.3L135.5 201.3L136.7 201.3L138.0 201.3L139.3 201.3L140.6 201.3L141.8 201.3L143.1 201.3L144.4 201.3L145.6 201.3L146.9 201.3L148.2 201.3L149.4 201.3L150.7 201.3L152.0 201.3L153.3 201.3L154.5 201.3L155.8 201.3L157.1 201.3L158.3 201.3L159.6 201.3L160.9 201.3L162.1 201.3L163.4 201.3L164.7 201.3L166.0 201.3L167.2 201.3L168.5 201.3L169.8 201.3L171.0 201.3L172.3 201.3L173.6 201.3L174.8 201.3L176.1 201.3L177.4 201.3L178.7 201.3L179.9 201.3L181.2 201.3L182.5 201.3L183.7 201.3L185.0 201.3L186.3 201.3L187.5 201.3L188.8 201.3L190.1 201.3L191.4 201.3L192.6 201.3L193.9 201.3L195.2 201.3L196.4 201.3L197.7 201.3L199.0 201.3L200.3 201.3L201.5 201.3L202.8 201.3L204.1 201.3L205.3 201.3L206.6 201.3L207.9 201.3L209.1 201.3L210.4 201.3L211.7 201.3L213.0 201.3L214.2 201.3L215.5 201.3L216.8 201.3L218.0 201.3L219.3 201.3L220.6 201.3L221.8 201.3L223.1 201.3L224.4 201.3L225.7 201.3L226.9 201.3L228.2 201.3L229.5 201.3L230.7 201.3L232.0 201.3L233.3 201.3L234.5 201.3L235.8 201.3L237.1 201.3L238.4 201.3L239.6 201.3L240.9 201.3L242.2 201.3L243.4 201.3L244.7 201.3L246.0 201.3L247.2 201.3L248.5 201.3L249.8 201.3L251.1 201.3L252.3 201.3L253.6 201.3L254.9 201.3L256.1 201.3L257.4 201.3L258.7 201.3L260.0 201.3L261.2 201.3L262.5 201.3L263.8 201.3L265.0 201.3L266.3 201.3L267.6 201.3L268.8 201.3L270.1 201.3L271.4 201.3L272.7 201.3L273.9 201.3L275.2 201.3L276.5 201.3L277.7 201.3L279.0 201.3L280.3 201.3L281.5 201.3L282.8 201.3L284.1 201.3L285.4 201.3L286.6 201.3L287.9 201.3L289.2 201.3L290.4 201.3L291.7 201.3L293.0 201.3L294.2 201.3L295.5 201.3L296.8 201.3L298.1 201.3L299.3 201.3L300.6 201.3L301.9 201.3L303.1 201.3L304.4 201.3L305.7 201.3L306.9 201.3L308.2 201.3M24.3 155.6L26.2 155.6L28.1 155.6L30.0 155.6L31.9 155.6L33.7 155.6L35.6 155.6L37.5 155.6L39.4 155.6L41.3 155.6L43.2 155.6L45.1 155.6L46.9 155.6L48.8 155.6L50.7 155.6L52.6 155.6L54.5 155.6L56.4 155.6L58.2 155.6L60.1 155.6L62.0 155.6L63.9 155.6L65.8 155.6L67.7 155.6L69.5 155.6L71.4 155.6L73.3 155.6L75.2 155.6L77.1 155.6L79.0 155.6L80.9 155.6L82.7 155.6L84.6 155.6L86.5 155.6L88.4 155.6L90.3 155.6L92.2 155.6L94.0 155.6L95.9 155.6L97.8 155.6L99.7 155.6L101.6 155.6L103.5 155.6L105.3 155.6L107.2 155.6L109.1 155.6L111.0 155.6L112.9 155.6L114.8 155.6L116.6 155.6L118.5 155.6L120.4 155.6L122.3 155.6L124.2 155.6L126.1 155.6L128.0 155.6L129.8 155.6L131.7 155.6L133.6 155.6L135.5 155.6L137.4 155.6L139.3 155.6L141.1 155.6L143.0 155.6L144.9 155.6L146.8 155.6L148.7 155.6L150.6 155.6L152.4 155.6L154.3 155.6L156.2 155.6L158.1 155.6L160.0 155.6L161.9 155.6L163.8 155.6L165.6 155.6L167.5 155.6L169.4 155.6L171.3 155.6L173.2 155.6L175.1 155.6L176.9 155.6L178.8 155.6L180.7 155.6L182.6 155.6L184.5 155.6L186.4 155.6L188.2 155.6L190.1 155.6L192.0 155.6L193.9 155.6L195.8 155.6L197.7 155.6L199.6 155.6L201.4 155.6L203.3 155.6L205.2 155.6L207.1 155.6L209.0 155.6L210.9 155.6L212.7 155.6L214.6 155.6L216.5 155.6L218.4 155.6L220.3 155.6L222.2 155.6L224.0 155.6L225.9 155.6L227.8 155.6L229.7 155.6L231.6 155.6L233.5 155.6L235.4 155.6L237.2 155.6L239.1 155.6L241.0 155.6L242.9 155.6L244.8 155.6L246.7 155.6L248.5 155.6L250.4 155.6L252.3 155.6L254.2 155.6L256.1 155.6L258.0 155.6L259.8 155.6L261.7 155.6L263.6 155.6L265.5 155.6L267.4 155.6L269.3 155.6L271.2 155.6L273.0 155.6L274.9 155.6L276.8 155.6L278.7 155.6L280.6 155.6L282.5 155.6L284.3 155.6L286.2 155.6L288.1 155.6L290.0 155.6L291.9 155.6L293.8 155.6L295.6 155.6L297.5 155.6L299.4 155.6L301.3 155.6L303.2 155.6L305.1 155.6L306.9 155.6L308.8 155.6L310.7 155.6L312.6 155.6L314.5 155.6L316.4 155.6L318.3 155.6L320.1 155.6L322.0 155.6L323.9 155.6L325.8 155.6L327.7 155.6L329.6 155.6L331.4 155.6L333.3 155.6L335.2 155.6L337.1 155.6L339.0 155.6L340.9 155.6L342.7 155.6L344.6 155.6L346.5 155.6L348.4 155.6L350.3 155.6L352.2 155.6L354.1 155.6L355.9 155.6L357.8 155.6L359.7 155.6L361.6 155.6L363.5 155.6M9.9 104.5L11.9 104.5L14.0 104.5L16.0 104.5L18.1 104.5L20.1 104.5L22.2 104.5L24.2 104.5L26.3 104.5L28.3 104.5L30.3 104.5L32.4 104.5L34.4 104.5L36.5 104.5L38.5 104.5L40.6 104.5L42.6 104.5L44.7 104.5L46.7 104.5L48.7 104.5L50.8 104.5L52.8 104.5L54.9 104.5L56.9 104.5L59.0 104.5L61.0 104.5L63.1 104.5L65.1 104.5L67.1 104.5L69.2 104.5L71.2 104.5L73.3 104.5L75.3 104.5L77.4 104.5L79.4 104.5L81.5 104.5L83.5 104.5L85.5 104.5L87.6 104.5L89.6 104.5L91.7 104.5L93.7 104.5L95.8 104.5L97.8 104.5L99.9 104.5L101.9 104.5L103.9 104.5L106.0 104.5L108.0 104.5L110.1 104.5L112.1 104.5L114.2 104.5L116.2 104.5L118.3 104.5L120.3 104.5L122.3 104.5L124.4 104.5L126.4 104.5L128.5 104.5L130.5 104.5L132.6 104.5L134.6 104.5L136.7 104.5L138.7 104.5L140.7 104.5L142.8 104.5L144.8 104.5L146.9 104.5L148.9 104.5L151.0 104.5L153.0 104.5L155.1 104.5L157.1 104.5L159.1 104.5L161.2 104.5L163.2 104.5L165.3 104.5L167.3 104.5L169.4 104.5L171.4 104.5L173.5 104.5L175.5 104.5L177.5 104.5L179.6 104.5L181.6 104.5L183.7 104.5L185.7 104.5L187.8 104.5L189.8 104.5L191.9 104.5L193.9 104.5L195.9 104.5L198.0 104.5L200.0 104.5L202.1 104.5L204.1 104.5L206.2 104.5L208.2 104.5L210.3 104.5L212.3 104.5L214.3 104.5L216.4 104.5L218.4 104.5L220.5 104.5L222.5 104.5L224.6 104.5L226.6 104.5L228.7 104.5L230.7 104.5L232.7 104.5L234.8 104.5L236.8 104.5L238.9 104.5L240.9 104.5L243.0 104.5L245.0 104.5L247.1 104.5L249.1 104.5L251.1 104.5L253.2 104.5L255.2 104.5L257.3 104.5L259.3 104.5L261.4 104.5L263.4 104.5L265.5 104.5L267.5 104.5L269.5 104.5L271.6 104.5L273.6 104.5L275.7 104.5L277.7 104.5L279.8 104.5L281.8 104.5L283.9 104.5L285.9 104.5L287.9 104.5L290.0 104.5L292.0 104.5L294.1 104.5L296.1 104.5L298.2 104.5L300.2 104.5L302.3 104.5L304.3 104.5L306.3 104.5L308.4 104.5L310.4 104.5L312.5 104.5L314.5 104.5L316.6 104.5L318.6 104.5L320.7 104.5L322.7 104.5L324.7 104.5L326.8 104.5L328.8 104.5L330.9 104.5L332.9 104.5L335.0 104.5L337.0 104.5L339.1 104.5L341.1 104.5L343.1 104.5L345.2 104.5L347.2 104.5L349.3 104.5L351.3 104.5L353.4 104.5L355.4 104.5L357.5 104.5L359.5 104.5L361.5 104.5L363.6 104.5L365.6 104.5L367.7 104.5L369.7 104.5L371.8 104.5L373.8 104.5L375.9 104.5L377.9 104.5M24.3 53.3L26.2 53.3L28.1 53.3L30.0 53.3L31.9 53.3L33.7 53.3L35.6 53.3L37.5 53.3L39.4 53.3L41.3 53.3L43.2 53.3L45.1 53.3L46.9 53.3L48.8 53.3L50.7 53.3L52.6 53.3L54.5 53.3L56.4 53.3L58.2 53.3L60.1 53.3L62.0 53.3L63.9 53.3L65.8 53.3L67.7 53.3L69.5 53.3L71.4 53.3L73.3 53.3L75.2 53.3L77.1 53.3L79.0 53.3L80.9 53.3L82.7 53.3L84.6 53.3L86.5 53.3L88.4 53.3L90.3 53.3L92.2 53.3L94.0 53.3L95.9 53.3L97.8 53.3L99.7 53.3L101.6 53.3L103.5 53.3L105.3 53.3L107.2 53.3L109.1 53.3L111.0 53.3L112.9 53.3L114.8 53.3L116.6 53.3L118.5 53.3L120.4 53.3L122.3 53.3L124.2 53.3L126.1 53.3L128.0 53.3L129.8 53.3L131.7 53.3L133.6 53.3L135.5 53.3L137.4 53.3L139.3 53.3L141.1 53.3L143.0 53.3L144.9 53.3L146.8 53.3L148.7 53.3L150.6 53.3L152.4 53.3L154.3 53.3L156.2 53.3L158.1 53.3L160.0 53.3L161.9 53.3L163.8 53.3L165.6 53.3L167.5 53.3L169.4 53.3L171.3 53.3L173.2 53.3L175.1 53.3L176.9 53.3L178.8 53.3L180.7 53.3L182.6 53.3L184.5 53.3L186.4 53.3L188.2 53.3L190.1 53.3L192.0 53.3L193.9 53.3L195.8 53.3L197.7 53.3L199.6 53.3L201.4 53.3L203.3 53.3L205.2 53.3L207.1 53.3L209.0 53.3L210.9 53.3L212.7 53.3L214.6 53.3L216.5 53.3L218.4 53.3L220.3 53.3L222.2 53.3L224.0 53.3L225.9 53.3L227.8 53.3L229.7 53.3L231.6 53.3L233.5 53.3L235.4 53.3L237.2 53.3L239.1 53.3L241.0 53.3L242.9 53.3L244.8 53.3L246.7 53.3L248.5 53.3L250.4 53.3L252.3 53.3L254.2 53.3L256.1 53.3L258.0 53.3L259.8 53.3L261.7 53.3L263.6 53.3L265.5 53.3L267.4 53.3L269.3 53.3L271.2 53.3L273.0 53.3L274.9 53.3L276.8 53.3L278.7 53.3L280.6 53.3L282.5 53.3L284.3 53.3L286.2 53.3L288.1 53.3L290.0 53.3L291.9 53.3L293.8 53.3L295.6 53.3L297.5 53.3L299.4 53.3L301.3 53.3L303.2 53.3L305.1 53.3L306.9 53.3L308.8 53.3L310.7 53.3L312.6 53.3L314.5 53.3L316.4 53.3L318.3 53.3L320.1 53.3L322.0 53.3L323.9 53.3L325.8 53.3L327.7 53.3L329.6 53.3L331.4 53.3L333.3 53.3L335.2 53.3L337.1 53.3L339.0 53.3L340.9 53.3L342.7 53.3L344.6 53.3L346.5 53.3L348.4 53.3L350.3 53.3L352.2 53.3L354.1 53.3L355.9 53.3L357.8 53.3L359.7 53.3L361.6 53.3L363.5 53.3M79.6 7.6L80.9 7.6L82.1 7.6L83.4 7.6L84.7 7.6L85.9 7.6L87.2 7.6L88.5 7.6L89.7 7.6L91.0 7.6L92.3 7.6L93.6 7.6L94.8 7.6L96.1 7.6L97.4 7.6L98.6 7.6L99.9 7.6L101.2 7.6L102.4 7.6L103.7 7.6L105.0 7.6L106.3 7.6L107.5 7.6L108.8 7.6L110.1 7.6L111.3 7.6L112.6 7.6L113.9 7.6L115.1 7.6L116.4 7.6L117.7 7.6L119.0 7.6L120.2 7.6L121.5 7.6L122.8 7.6L124.0 7.6L125.3 7.6L126.6 7.6L127.8 7.6L129.1 7.6L130.4 7.6L131.7 7.6L132.9 7.6L134.2 7.6L135.5 7.6L136.7 7.6L138.0 7.6L139.3 7.6L140.6 7.6L141.8 7.6L143.1 7.6L144.4 7.6L145.6 7.6L146.9 7.6L148.2 7.6L149.4 7.6L150.7 7.6L152.0 7.6L153.3 7.6L154.5 7.6L155.8 7.6L157.1 7.6L158.3 7.6L159.6 7.6L160.9 7.6L162.1 7.6L163.4 7.6L164.7 7.6L166.0 7.6L167.2 7.6L168.5 7.6L169.8 7.6L171.0 7.6L172.3 7.6L173.6 7.6L174.8 7.6L176.1 7.6L177.4 7.6L178.7 7.6L179.9 7.6L181.2 7.6L182.5 7.6L183.7 7.6L185.0 7.6L186.3 7.6L187.5 7.6L188.8 7.6L190.1 7.6L191.4 7.6L192.6 7.6L193.9 7.6L195.2 7.6L196.4 7.6L197.7 7.6L199.0 7.6L200.3 7.6L201.5 7.6L202.8 7.6L204.1 7.6L205.3 7.6L206.6 7.6L207.9 7.6L209.1 7.6L210.4 7.6L211.7 7.6L213.0 7.6L214.2 7.6L215.5 7.6L216.8 7.6L218.0 7.6L219.3 7.6L220.6 7.6L221.8 7.6L223.1 7.6L224.4 7.6L225.7 7.6L226.9 7.6L228.2 7.6L229.5 7.6L230.7 7.6L232.0 7.6L233.3 7.6L234.5 7.6L235.8 7.6L237.1 7.6L238.4 7.6L239.6 7.6L240.9 7.6L242.2 7.6L243.4 7.6L244.7 7.6L246.0 7.6L247.2 7.6L248.5 7.6L249.8 7.6L251.1 7.6L252.3 7.6L253.6 7.6L254.9 7.6L256.1 7.6L257.4 7.6L258.7 7.6L260.0 7.6L261.2 7.6L262.5 7.6L263.8 7.6L265.0 7.6L266.3 7.6L267.6 7.6L268.8 7.6L270.1 7.6L271.4 7.6L272.7 7.6L273.9 7.6L275.2 7.6L276.5 7.6L277.7 7.6L279.0 7.6L280.3 7.6L281.5 7.6L282.8 7.6L284.1 7.6L285.4 7.6L286.6 7.6L287.9 7.6L289.2 7.6L290.4 7.6L291.7 7.6L293.0 7.6L294.2 7.6L295.5 7.6L296.8 7.6L298.1 7.6L299.3 7.6L300.6 7.6L301.9 7.6L303.1 7.6L304.4 7.6L305.7 7.6L306.9 7.6L308.2 7.6M128.6 207.6L127.8 207.2L126.8 206.7L125.8 206.2L124.8 205.7L123.7 205.1L122.6 204.4L121.4 203.7L120.2 203.0L119.0 202.1L117.7 201.3L116.4 200.4L115.1 199.5L113.8 198.5L112.6 197.6L111.3 196.6L110.1 195.6L109.0 194.6L107.9 193.5L106.8 192.5L105.8 191.4L104.7 190.3L103.7 189.3L102.7 188.2L101.7 187.0L100.7 185.9L99.7 184.8L98.8 183.7L97.8 182.5L96.9 181.4L95.9 180.2L95.0 179.0L94.1 177.8L93.2 176.6L92.3 175.4L91.5 174.2L90.6 173.0L89.8 171.8L89.0 170.6L88.2 169.4L87.4 168.1L86.7 166.9L86.0 165.6L85.3 164.4L84.6 163.1L84.0 161.9L83.3 160.6L82.7 159.4L82.0 158.1L81.4 156.8L80.9 155.6L80.3 154.3L79.8 153.0L79.2 151.7L78.7 150.5L78.3 149.2L77.8 147.9L77.4 146.6L76.9 145.4L76.5 144.1L76.1 142.8L75.8 141.5L75.4 140.2L75.1 139.0L74.8 137.7L74.5 136.4L74.3 135.1L74.1 133.9L73.8 132.6L73.6 131.3L73.4 130.0L73.2 128.7L73.0 127.5L72.8 126.2L72.6 124.9L72.5 123.6L72.3 122.3L72.2 121.1L72.0 119.8L71.9 118.5L71.8 117.2L71.7 116.0L71.6 114.7L71.5 113.4L71.5 112.1L71.4 110.8L71.4 109.6L71.3 108.3L71.3 107.0L71.3 105.7L71.2 104.5L71.3 103.2L71.3 101.9L71.3 100.6L71.4 99.3L71.4 98.1L71.5 96.8L71.5 95.5L71.6 94.2L71.7 92.9L71.8 91.7L71.9 90.4L72.0 89.1L72.2 87.8L72.3 86.6L72.5 85.3L72.6 84.0L72.8 82.7L73.0 81.4L73.2 80.2L73.4 78.9L73.6 77.6L73.8 76.3L74.1 75.0L74.3 73.8L74.5 72.5L74.8 71.2L75.1 69.9L75.4 68.7L75.8 67.4L76.1 66.1L76.5 64.8L76.9 63.5L77.4 62.3L77.8 61.0L78.3 59.7L78.7 58.4L79.2 57.2L79.8 55.9L80.3 54.6L80.9 53.3L81.4 52.1L82.0 50.8L82.7 49.5L83.3 48.3L84.0 47.0L84.6 45.8L85.3 44.5L86.0 43.3L86.7 42.0L87.4 40.8L88.2 39.5L89.0 38.3L89.8 37.1L90.6 35.9L91.5 34.7L92.3 33.5L93.2 32.3L94.1 31.1L95.0 29.9L95.9 28.7L96.9 27.5L97.8 26.4L98.8 25.2L99.7 24.1L100.7 23.0L101.7 21.9L102.7 20.7L103.7 19.6L104.7 18.6L105.8 17.5L106.8 16.4L107.9 15.4L109.0 14.3L110.1 13.3L111.3 12.3L112.6 11.3L113.8 10.4L115.1 9.4L116.4 8.5L117.7 7.6L119.0 6.8L120.2 5.9L121.4 5.2L122.6 4.5L123.7 3.8L124.8 3.2L125.8 2.7L126.8 2.2L127.8 1.7L128.6 1.4M161.3 207.6L160.8 207.2L160.4 206.7L159.9 206.2L159.3 205.7L158.8 205.1L158.2 204.4L157.7 203.7L157.0 203.0L156.4 202.1L155.8 201.3L155.2 200.4L154.5 199.5L153.9 198.5L153.2 197.6L152.6 196.6L152.0 195.6L151.4 194.6L150.9 193.5L150.4 192.5L149.8 191.4L149.3 190.3L148.8 189.3L148.3 188.2L147.8 187.0L147.3 185.9L146.8 184.8L146.3 183.7L145.9 182.5L145.4 181.4L144.9 180.2L144.5 179.0L144.0 177.8L143.6 176.6L143.1 175.4L142.7 174.2L142.3 173.0L141.8 171.8L141.4 170.6L141.0 169.4L140.7 168.1L140.3 166.9L139.9 165.6L139.6 164.4L139.3 163.1L138.9 161.9L138.6 160.6L138.3 159.4L138.0 158.1L137.7 156.8L137.4 155.6L137.1 154.3L136.8 153.0L136.6 151.7L136.3 150.5L136.1 149.2L135.9 147.9L135.6 146.6L135.4 145.4L135.2 144.1L135.0 142.8L134.8 141.5L134.7 140.2L134.5 139.0L134.4 137.7L134.2 136.4L134.1 135.1L134.0 133.9L133.9 132.6L133.8 131.3L133.7 130.0L133.6 128.7L133.5 127.5L133.4 126.2L133.3 124.9L133.2 123.6L133.1 122.3L133.0 121.1L133.0 119.8L132.9 118.5L132.8 117.2L132.8 116.0L132.8 114.7L132.7 113.4L132.7 112.1L132.7 110.8L132.6 109.6L132.6 108.3L132.6 107.0L132.6 105.7L132.6 104.5L132.6 103.2L132.6 101.9L132.6 100.6L132.6 99.3L132.7 98.1L132.7 96.8L132.7 95.5L132.8 94.2L132.8 92.9L132.8 91.7L132.9 90.4L133.0 89.1L133.0 87.8L133.1 86.6L133.2 85.3L133.3 84.0L133.4 82.7L133.5 81.4L133.6 80.2L133.7 78.9L133.8 77.6L133.9 76.3L134.0 75.0L134.1 73.8L134.2 72.5L134.4 71.2L134.5 69.9L134.7 68.7L134.8 67.4L135.0 66.1L135.2 64.8L135.4 63.5L135.6 62.3L135.9 61.0L136.1 59.7L136.3 58.4L136.6 57.2L136.8 55.9L137.1 54.6L137.4 53.3L137.7 52.1L138.0 50.8L138.3 49.5L138.6 48.3L138.9 47.0L139.3 45.8L139.6 44.5L139.9 43.3L140.3 42.0L140.7 40.8L141.0 39.5L141.4 38.3L141.8 37.1L142.3 35.9L142.7 34.7L143.1 33.5L143.6 32.3L144.0 31.1L144.5 29.9L144.9 28.7L145.4 27.5L145.9 26.4L146.3 25.2L146.8 24.1L147.3 23.0L147.8 21.9L148.3 20.7L148.8 19.6L149.3 18.6L149.8 17.5L150.4 16.4L150.9 15.4L151.4 14.3L152.0 13.3L152.6 12.3L153.2 11.3L153.9 10.4L154.5 9.4L155.2 8.5L155.8 7.6L156.4 6.8L157.0 5.9L157.7 5.2L158.2 4.5L158.8 3.8L159.3 3.2L159.9 2.7L160.4 2.2L160.8 1.7L161.3 1.4M193.9 207.6L193.9 207.2L193.9 206.7L193.9 206.2L193.9 205.7L193.9 205.1L193.9 204.4L193.9 203.7L193.9 203.0L193.9 202.1L193.9 201.3L193.9 200.4L193.9 199.5L193.9 198.5L193.9 197.6L193.9 196.6L193.9 195.6L193.9 194.6L193.9 193.5L193.9 192.5L193.9 191.4L193.9 190.3L193.9 189.3L193.9 188.2L193.9 187.0L193.9 185.9L193.9 184.8L193.9 183.7L193.9 182.5L193.9 181.4L193.9 180.2L193.9 179.0L193.9 177.8L193.9 176.6L193.9 175.4L193.9 174.2L193.9 173.0L193.9 171.8L193.9 170.6L193.9 169.4L193.9 168.1L193.9 166.9L193.9 165.6L193.9 164.4L193.9 163.1L193.9 161.9L193.9 160.6L193.9 159.4L193.9 158.1L193.9 156.8L193.9 155.6L193.9 154.3L193.9 153.0L193.9 151.7L193.9 150.5L193.9 149.2L193.9 147.9L193.9 146.6L193.9 145.4L193.9 144.1L193.9 142.8L193.9 141.5L193.9 140.2L193.9 139.0L193.9 137.7L193.9 136.4L193.9 135.1L193.9 133.9L193.9 132.6L193.9 131.3L193.9 130.0L193.9 128.7L193.9 127.5L193.9 126.2L193.9 124.9L193.9 123.6L193.9 122.3L193.9 121.1L193.9 119.8L193.9 118.5L193.9 117.2L193.9 116.0L193.9 114.7L193.9 113.4L193.9 112.1L193.9 110.8L193.9 109.6L193.9 108.3L193.9 107.0L193.9 105.7L193.9 104.5L193.9 103.2L193.9 101.9L193.9 100.6L193.9 99.3L193.9 98.1L193.9 96.8L193.9 95.5L193.9 94.2L193.9 92.9L193.9 91.7L193.9 90.4L193.9 89.1L193.9 87.8L193.9 86.6L193.9 85.3L193.9 84.0L193.9 82.7L193.9 81.4L193.9 80.2L193.9 78.9L193.9 77.6L193.9 76.3L193.9 75.0L193.9 73.8L193.9 72.5L193.9 71.2L193.9 69.9L193.9 68.7L193.9 67.4L193.9 66.1L193.9 64.8L193.9 63.5L193.9 62.3L193.9 61.0L193.9 59.7L193.9 58.4L193.9 57.2L193.9 55.9L193.9 54.6L193.9 53.3L193.9 52.1L193.9 50.8L193.9 49.5L193.9 48.3L193.9 47.0L193.9 45.8L193.9 44.5L193.9 43.3L193.9 42.0L193.9 40.8L193.9 39.5L193.9 38.3L193.9 37.1L193.9 35.9L193.9 34.7L193.9 33.5L193.9 32.3L193.9 31.1L193.9 29.9L193.9 28.7L193.9 27.5L193.9 26.4L193.9 25.2L193.9 24.1L193.9 23.0L193.9 21.9L193.9 20.7L193.9 19.6L193.9 18.6L193.9 17.5L193.9 16.4L193.9 15.4L193.9 14.3L193.9 13.3L193.9 12.3L193.9 11.3L193.9 10.4L193.9 9.4L193.9 8.5L193.9 7.6L193.9 6.8L193.9 5.9L193.9 5.2L193.9 4.5L193.9 3.8L193.9 3.2L193.9 2.7L193.9 2.2L193.9 1.7L193.9 1.4M226.5 207.6L227.0 207.2L227.4 206.7L227.9 206.2L228.5 205.7L229.0 205.1L229.6 204.4L230.1 203.7L230.8 203.0L231.4 202.1L232.0 201.3L232.6 200.4L233.3 199.5L233.9 198.5L234.6 197.6L235.2 196.6L235.8 195.6L236.4 194.6L236.9 193.5L237.4 192.5L238.0 191.4L238.5 190.3L239.0 189.3L239.5 188.2L240.0 187.0L240.5 185.9L241.0 184.8L241.5 183.7L241.9 182.5L242.4 181.4L242.9 180.2L243.3 179.0L243.8 177.8L244.2 176.6L244.7 175.4L245.1 174.2L245.5 173.0L246.0 171.8L246.4 170.6L246.8 169.4L247.1 168.1L247.5 166.9L247.9 165.6L248.2 164.4L248.5 163.1L248.9 161.9L249.2 160.6L249.5 159.4L249.8 158.1L250.1 156.8L250.4 155.6L250.7 154.3L251.0 153.0L251.2 151.7L251.5 150.5L251.7 149.2L251.9 147.9L252.2 146.6L252.4 145.4L252.6 144.1L252.8 142.8L253.0 141.5L253.1 140.2L253.3 139.0L253.4 137.7L253.6 136.4L253.7 135.1L253.8 133.9L253.9 132.6L254.0 131.3L254.1 130.0L254.2 128.7L254.3 127.5L254.4 126.2L254.5 124.9L254.6 123.6L254.7 122.3L254.8 121.1L254.8 119.8L254.9 118.5L255.0 117.2L255.0 116.0L255.0 114.7L255.1 113.4L255.1 112.1L255.1 110.8L255.2 109.6L255.2 108.3L255.2 107.0L255.2 105.7L255.2 104.5L255.2 103.2L255.2 101.9L255.2 100.6L255.2 99.3L255.1 98.1L255.1 96.8L255.1 95.5L255.0 94.2L255.0 92.9L255.0 91.7L254.9 90.4L254.8 89.1L254.8 87.8L254.7 86.6L254.6 85.3L254.5 84.0L254.4 82.7L254.3 81.4L254.2 80.2L254.1 78.9L254.0 77.6L253.9 76.3L253.8 75.0L253.7 73.8L253.6 72.5L253.4 71.2L253.3 69.9L253.1 68.7L253.0 67.4L252.8 66.1L252.6 64.8L252.4 63.5L252.2 62.3L251.9 61.0L251.7 59.7L251.5 58.4L251.2 57.2L251.0 55.9L250.7 54.6L250.4 53.3L250.1 52.1L249.8 50.8L249.5 49.5L249.2 48.3L248.9 47.0L248.5 45.8L248.2 44.5L247.9 43.3L247.5 42.0L247.1 40.8L246.8 39.5L246.4 38.3L246.0 37.1L245.5 35.9L245.1 34.7L244.7 33.5L244.2 32.3L243.8 31.1L243.3 29.9L242.9 28.7L242.4 27.5L241.9 26.4L241.5 25.2L241.0 24.1L240.5 23.0L240.0 21.9L239.5 20.7L239.0 19.6L238.5 18.6L238.0 17.5L237.4 16.4L236.9 15.4L236.4 14.3L235.8 13.3L235.2 12.3L234.6 11.3L233.9 10.4L233.3 9.4L232.6 8.5L232.0 7.6L231.4 6.8L230.8 5.9L230.1 5.2L229.6 4.5L229.0 3.8L228.5 3.2L227.9 2.7L227.4 2.2L227.0 1.7L226.5 1.4M259.2 207.6L260.0 207.2L261.0 206.7L262.0 206.2L263.0 205.7L264.1 205.1L265.2 204.4L266.4 203.7L267.6 203.0L268.8 202.1L270.1 201.3L271.4 200.4L272.7 199.5L274.0 198.5L275.2 197.6L276.5 196.6L277.7 195.6L278.8 194.6L279.9 193.5L281.0 192.5L282.0 191.4L283.1 190.3L284.1 189.3L285.1 188.2L286.1 187.0L287.1 185.9L288.1 184.8L289.0 183.7L290.0 182.5L290.9 181.4L291.9 180.2L292.8 179.0L293.7 177.8L294.6 176.6L295.5 175.4L296.3 174.2L297.2 173.0L298.0 171.8L298.8 170.6L299.6 169.4L300.4 168.1L301.1 166.9L301.8 165.6L302.5 164.4L303.2 163.1L303.8 161.9L304.5 160.6L305.1 159.4L305.8 158.1L306.4 156.8L306.9 155.6L307.5 154.3L308.0 153.0L308.6 151.7L309.1 150.5L309.5 149.2L310.0 147.9L310.4 146.6L310.9 145.4L311.3 144.1L311.7 142.8L312.0 141.5L312.4 140.2L312.7 139.0L313.0 137.7L313.3 136.4L313.5 135.1L313.7 133.9L314.0 132.6L314.2 131.3L314.4 130.0L314.6 128.7L314.8 127.5L315.0 126.2L315.2 124.9L315.3 123.6L315.5 122.3L315.6 121.1L315.8 119.8L315.9 118.5L316.0 117.2L316.1 116.0L316.2 114.7L316.3 113.4L316.3 112.1L316.4 110.8L316.4 109.6L316.5 108.3L316.5 107.0L316.5 105.7L316.6 104.5L316.5 103.2L316.5 101.9L316.5 100.6L316.4 99.3L316.4 98.1L316.3 96.8L316.3 95.5L316.2 94.2L316.1 92.9L316.0 91.7L315.9 90.4L315.8 89.1L315.6 87.8L315.5 86.6L315.3 85.3L315.2 84.0L315.0 82.7L314.8 81.4L314.6 80.2L314.4 78.9L314.2 77.6L314.0 76.3L313.7 75.0L313.5 73.8L313.3 72.5L313.0 71.2L312.7 69.9L312.4 68.7L312.0 67.4L311.7 66.1L311.3 64.8L310.9 63.5L310.4 62.3L310.0 61.0L309.5 59.7L309.1 58.4L308.6 57.2L308.0 55.9L307.5 54.6L306.9 53.3L306.4 52.1L305.8 50.8L305.1 49.5L304.5 48.3L303.8 47.0L303.2 45.8L302.5 44.5L301.8 43.3L301.1 42.0L300.4 40.8L299.6 39.5L298.8 38.3L298.0 37.1L297.2 35.9L296.3 34.7L295.5 33.5L294.6 32.3L293.7 31.1L292.8 29.9L291.9 28.7L290.9 27.5L290.0 26.4L289.0 25.2L288.1 24.1L287.1 23.0L286.1 21.9L285.1 20.7L284.1 19.6L283.1 18.6L282.0 17.5L281.0 16.4L279.9 15.4L278.8 14.3L277.7 13.3L276.5 12.3L275.2 11.3L274.0 10.4L272.7 9.4L271.4 8.5L270.1 7.6L268.8 6.8L267.6 5.9L266.4 5.2L265.2 4.5L264.1 3.8L263.0 3.2L262.0 2.7L261.0 2.2L260.0 1.7L259.2 1.4" fill="none" stroke="#334" stroke-opacity="0.75" stroke-width="1" stroke-dasharray="1 1"/>
<path d="M96.0 207.6L94.7 207.2L93.3 206.7L91.8 206.2L90.2 205.7L88.6 205.1L86.9 204.4L85.2 203.7L83.3 203.0L81.5 202.1L79.6 201.3L77.7 200.4L75.7 199.5L73.8 198.5L71.9 197.6L70.0 196.6L68.3 195.6L66.5 194.6L64.9 193.5L63.3 192.5L61.7 191.4L60.1 190.3L58.6 189.3L57.1 188.2L55.6 187.0L54.1 185.9L52.7 184.8L51.2 183.7L49.8 182.5L48.4 181.4L47.0 180.2L45.6 179.0L44.2 177.8L42.9 176.6L41.6 175.4L40.3 174.2L39.0 173.0L37.7 171.8L36.5 170.6L35.3 169.4L34.2 168.1L33.1 166.9L32.0 165.6L31.0 164.4L30.0 163.1L29.0 161.9L28.0 160.6L27.1 159.4L26.1 158.1L25.2 156.8L24.3 155.6L23.5 154.3L22.7 153.0L21.9 151.7L21.2 150.5L20.4 149.2L19.8 147.9L19.1 146.6L18.4 145.4L17.8 144.1L17.3 142.8L16.7 141.5L16.2 140.2L15.7 139.0L15.3 137.7L14.9 136.4L14.5 135.1L14.1 133.9L13.8 132.6L13.5 131.3L13.2 130.0L12.9 128.7L12.6 127.5L12.3 126.2L12.0 124.9L11.7 123.6L11.5 122.3L11.3 121.1L11.1 119.8L10.9 118.5L10.7 117.2L10.6 116.0L10.5 114.7L10.4 113.4L10.2 112.1L10.2 110.8L10.1 109.6L10.0 108.3L10.0 107.0L9.9 105.7L9.9 104.5L9.9 103.2L10.0 101.9L10.0 100.6L10.1 99.3L10.2 98.1L10.2 96.8L10.4 95.5L10.5 94.2L10.6 92.9L10.7 91.7L10.9 90.4L11.1 89.1L11.3 87.8L11.5 86.6L11.7 85.3L12.0 84.0L12.3 82.7L12.6 81.4L12.9 80.2L13.2 78.9L13.5 77.6L13.8 76.3L14.1 75.0L14.5 73.8L14.9 72.5L15.3 71.2L15.7 69.9L16.2 68.7L16.7 67.4L17.3 66.1L17.8 64.8L18.4 63.5L19.1 62.3L19.8 61.0L20.4 59.7L21.2 58.4L21.9 57.2L22.7 55.9L23.5 54.6L24.3 53.3L25.2 52.1L26.1 50.8L27.1 49.5L28.0 48.3L29.0 47.0L30.0 45.8L31.0 44.5L32.0 43.3L33.1 42.0L34.2 40.8L35.3 39.5L36.5 38.3L37.7 37.1L39.0 35.9L40.3 34.7L41.6 33.5L42.9 32.3L44.2 31.1L45.6 29.9L47.0 28.7L48.4 27.5L49.8 26.4L51.2 25.2L52.7 24.1L54.1 23.0L55.6 21.9L57.1 20.7L58.6 19.6L60.1 18.6L61.7 17.5L63.3 16.4L64.9 15.4L66.5 14.3L68.3 13.3L70.0 12.3L71.9 11.3L73.8 10.4L75.7 9.4L77.7 8.5L79.6 7.6L81.5 6.8L83.3 5.9L85.2 5.2L86.9 4.5L88.6 3.8L90.2 3.2L91.8 2.7L93.3 2.2L94.7 1.7L96.0 1.4L291.8 1.4L293.1 1.7L294.5 2.2L296.0 2.7L297.6 3.2L299.2 3.8L300.9 4.5L302.6 5.2L304.5 5.9L306.3 6.8L308.2 7.6L310.1 8.5L312.1 9.4L314.0 10.4L315.9 11.3L317.8 12.3L319.5 13.3L321.3 14.3L322.9 15.4L324.5 16.4L326.1 17.5L327.7 18.6L329.2 19.6L330.7 20.7L332.2 21.9L333.7 23.0L335.1 24.1L336.6 25.2L338.0 26.4L339.4 27.5L340.8 28.7L342.2 29.9L343.6 31.1L344.9 32.3L346.2 33.5L347.5 34.7L348.8 35.9L350.1 37.1L351.3 38.3L352.5 39.5L353.6 40.8L354.7 42.0L355.8 43.3L356.8 44.5L357.8 45.8L358.8 47.0L359.8 48.3L360.7 49.5L361.7 50.8L362.6 52.1L363.5 53.3L364.3 54.6L365.1 55.9L365.9 57.2L366.6 58.4L367.4 59.7L368.0 61.0L368.7 62.3L369.4 63.5L370.0 64.8L370.5 66.1L371.1 67.4L371.6 68.7L372.1 69.9L372.5 71.2L372.9 72.5L373.3 73.8L373.7 75.0L374.0 76.3L374.3 77.6L374.6 78.9L374.9 80.2L375.2 81.4L375.5 82.7L375.8 84.0L376.1 85.3L376.3 86.6L376.5 87.8L376.7 89.1L376.9 90.4L377.1 91.7L377.2 92.9L377.3 94.2L377.4 95.5L377.6 96.8L377.6 98.1L377.7 99.3L377.8 100.6L377.8 101.9L377.9 103.2L377.9 104.5L377.9 105.7L377.8 107.0L377.8 108.3L377.7 109.6L377.6 110.8L377.6 112.1L377.4 113.4L377.3 114.7L377.2 116.0L377.1 117.2L376.9 118.5L376.7 119.8L376.5 121.1L376.3 122.3L376.1 123.6L375.8 124.9L375.5 126.2L375.2 127.5L374.9 128.7L374.6 130.0L374.3 131.3L374.0 132.6L373.7 133.9L373.3 135.1L372.9 136.4L372.5 137.7L372.1 139.0L371.6 140.2L371.1 141.5L370.5 142.8L370.0 144.1L369.4 145.4L368.7 146.6L368.0 147.9L367.4 149.2L366.6 150.5L365.9 151.7L365.1 153.0L364.3 154.3L363.5 155.6L362.6 156.8L361.7 158.1L360.7 159.4L359.8 160.6L358.8 161.9L357.8 163.1L356.8 164.4L355.8 165.6L354.7 166.9L353.6 168.1L352.5 169.4L351.3 170.6L350.1 171.8L348.8 173.0L347.5 174.2L346.2 175.4L344.9 176.6L343.6 177.8L342.2 179.0L340.8 180.2L339.4 181.4L338.0 182.5L336.6 183.7L335.1 184.8L333.7 185.9L332.2 187.0L330.7 188.2L329.2 189.3L327.7 190.3L326.1 191.4L324.5 192.5L322.9 193.5L321.3 194.6L319.5 195.6L317.8 196.6L315.9 197.6L314.0 198.5L312.1 199.5L310.1 200.4L308.2 201.3L306.3 202.1L304.5 203.0L302.6 203.7L300.9 204.4L299.2 205.1L297.6 205.7L296.0 206.2L294.5 206.7L293.1 207.2L291.8 207.6Z" fill="none" stroke="#000" stroke-width="1"/>
<circle cx="240.80" cy="128.90" r="2.55" fill="#000"/>
<text transform="translate(245.20,133.60) scale(1,1.05)">ABPO</text>
<circle cx="326.80" cy="134.70" r="2.55" fill="#000"/>
<text transform="translate(328.50,141.90) scale(1,1.05)">ALIC</text>
<circle cx="302.40" cy="112.90" r="2.55" fill="#000"/>
<text transform="translate(308.50,115.10) scale(1,1.05)">BAKO</text>
<circle cx="117.40" cy="98.50" r="2.55" fill="#000"/>
<text transform="translate(124.50,106.80) scale(1,1.05)">BOGT</text>
<circle cx="144.80" cy="125.00" r="2.55" fill="#000"/>
<text transform="translate(143.10,140.10) scale(1,1.05)">BRAZ</text>
<circle cx="130.10" cy="62.90" r="2.55" fill="#000"/>
<text transform="translate(80.30,69.45) scale(1,1.05)">BRMU</text>
<circle cx="228.80" cy="62.70" r="2.55" fill="#000"/>
<text transform="translate(192.80,78.45) scale(1,1.05)">BSHM</text>
<circle cx="277.80" cy="187.50" r="2.55" fill="#000"/>
<text transform="translate(255.20,181.10) scale(1,1.05)">CAS1</text>
<circle cx="87.50" cy="40.90" r="2.55" fill="#000"/>
<text transform="translate(38.60,50.00) scale(1,1.05)">DRAO</text>
<circle cx="193.80" cy="39.60" r="2.55" fill="#000"/>
<text transform="translate(148.30,45.40) scale(1,1.05)">HERT</text>
<circle cx="108.00" cy="17.10" r="2.55" fill="#000"/>
<text transform="translate(114.60,15.60) scale(1,1.05)">HOLM</text>
<circle cx="84.80" cy="139.30" r="2.55" fill="#000"/>
<text transform="translate(44.50,143.80) scale(1,1.05)">ISPA</text>
<circle cx="275.00" cy="69.70" r="2.55" fill="#000"/>
<text transform="translate(279.50,79.70) scale(1,1.05)">LCK?</text>
<circle cx="36.85" cy="78.85" r="2.55" fill="#000"/>
<text transform="translate(23.50,95.10) scale(1,1.05)">MKEA</text>
<circle cx="202.80" cy="104.20" r="2.55" fill="#000"/>
<text transform="translate(212.15,108.40) scale(1,1.05)">NKLG</text>
<circle cx="260.20" cy="17.90" r="2.55" fill="#000"/>
<text transform="translate(264.70,23.10) scale(1,1.05)">NRIL</text>
<circle cx="133.10" cy="172.35" r="2.55" fill="#000"/>
<text transform="translate(141.70,176.80) scale(1,1.05)">PARC</text>
<circle cx="175.80" cy="24.10" r="2.55" fill="#000"/>
<text transform="translate(180.15,19.80) scale(1,1.05)">REYK</text>
<circle cx="208.30" cy="39.60" r="2.55" fill="#000"/>
<text transform="translate(214.20,43.10) scale(1,1.05)">WROC</text>
<circle cx="322.60" cy="44.30" r="2.55" fill="#000"/>
<text transform="translate(322.70,60.90) scale(1,1.05)">YSSK</text>
<path d="M69.42 384.4v-3M69.42 219.4v2.6M85.25 384.4v-3M85.25 219.4v2.6M101.08 384.4v-3M101.08 219.4v2.6M116.91 384.4v-3M116.91 219.4v2.6M132.74 384.4v-3M132.74 219.4v2.6M148.56 384.4v-3M148.56 219.4v2.6M164.40 384.4v-3M164.40 219.4v2.6M180.22 384.4v-3M180.22 219.4v2.6M196.06 384.4v-3M196.06 219.4v2.6M211.89 384.4v-3M211.89 219.4v2.6M227.72 384.4v-3M227.72 219.4v2.6M243.55 384.4v-3M243.55 219.4v2.6M259.38 384.4v-3M259.38 219.4v2.6M275.21 384.4v-3M275.21 219.4v2.6M291.04 384.4v-3M291.04 219.4v2.6M306.87 384.4v-3M306.87 219.4v2.6M322.70 384.4v-3M322.70 219.4v2.6M338.52 384.4v-3M338.52 219.4v2.6M354.36 384.4v-3M354.36 219.4v2.6M370.19 384.4v-3M370.19 219.4v2.6M61.5 384.40h3M378.1 384.40h-3M61.5 363.77h3M378.1 363.77h-3M61.5 343.15h3M378.1 343.15h-3M61.5 322.52h3M378.1 322.52h-3M61.5 301.90h3M378.1 301.90h-3M61.5 281.27h3M378.1 281.27h-3M61.5 260.65h3M378.1 260.65h-3M61.5 240.03h3M378.1 240.03h-3M61.5 219.40h3M378.1 219.40h-3" stroke="#000" stroke-width="1" fill="none"/>
<rect x="63.08" y="320.34" width="12.66" height="64.06" fill="#352a85" stroke="#000" stroke-width="1"/>
<rect x="78.91" y="359.53" width="12.66" height="24.87" fill="#352a85" stroke="#000" stroke-width="1"/>
<rect x="94.74" y="377.88" width="12.66" height="6.52" fill="#352a85" stroke="#000" stroke-width="1"/>
<rect x="110.57" y="278.14" width="12.66" height="106.26" fill="#352a85" stroke="#000" stroke-width="1"/>
<rect x="126.40" y="338.78" width="12.66" height="45.62" fill="#352a85" stroke="#000" stroke-width="1"/>
<rect x="142.23" y="384.40" width="12.66" height="0.50" fill="#352a85" stroke="#000" stroke-width="1"/>
<rect x="158.06" y="375.08" width="12.66" height="9.32" fill="#352a85" stroke="#000" stroke-width="1"/>
<rect x="173.89" y="382.96" width="12.66" height="1.44" fill="#352a85" stroke="#000" stroke-width="1"/>
<rect x="189.72" y="362.04" width="12.66" height="22.36" fill="#352a85" stroke="#000" stroke-width="1"/>
<rect x="205.55" y="381.18" width="12.66" height="3.22" fill="#352a85" stroke="#000" stroke-width="1"/>
<rect x="221.38" y="382.54" width="12.66" height="1.86" fill="#352a85" stroke="#000" stroke-width="1"/>
<rect x="237.21" y="379.78" width="12.66" height="4.62" fill="#352a85" stroke="#000" stroke-width="1"/>
<rect x="253.04" y="381.51" width="12.66" height="2.89" fill="#352a85" stroke="#000" stroke-width="1"/>
<rect x="268.87" y="229.55" width="12.66" height="154.85" fill="#352a85" stroke="#000" stroke-width="1"/>
<rect x="284.70" y="383.08" width="12.66" height="1.32" fill="#352a85" stroke="#000" stroke-width="1"/>
<rect x="300.53" y="382.25" width="12.66" height="2.14" fill="#352a85" stroke="#000" stroke-width="1"/>
<rect x="316.36" y="383.16" width="12.66" height="1.24" fill="#352a85" stroke="#000" stroke-width="1"/>
<rect x="332.19" y="380.56" width="12.66" height="3.84" fill="#352a85" stroke="#000" stroke-width="1"/>
<rect x="348.02" y="376.93" width="12.66" height="7.47" fill="#352a85" stroke="#000" stroke-width="1"/>
<rect x="363.85" y="380.65" width="12.66" height="3.75" fill="#352a85" stroke="#000" stroke-width="1"/>
<rect x="61.5" y="219.4" width="316.60" height="165.00" fill="none" stroke="#000" stroke-width="1"/>
<text class="ax" transform="translate(55.6,387.90) scale(1,1.05)" text-anchor="end">0</text>
<text class="ax" transform="translate(57.1,346.65) scale(1,1.05)" text-anchor="end">1000</text>
<text class="ax" transform="translate(57.1,305.40) scale(1,1.05)" text-anchor="end">2000</text>
<text class="ax" transform="translate(57.1,264.15) scale(1,1.05)" text-anchor="end">3000</text>
<text class="ax" transform="translate(57.1,222.90) scale(1,1.05)" text-anchor="end">4000</text>
<text class="xt" transform="translate(71.7,388.7) rotate(-90)" text-anchor="end">ABPO</text>
<text class="xt" transform="translate(87.5,388.7) rotate(-90)" text-anchor="end">ALIC</text>
<text class="xt" transform="translate(103.4,388.7) rotate(-90)" text-anchor="end">BAKO</text>
<text class="xt" transform="translate(119.2,388.7) rotate(-90)" text-anchor="end">BOGT</text>
<text class="xt" transform="translate(135.0,388.7) rotate(-90)" text-anchor="end">BRAZ</text>
<text class="xt" transform="translate(150.9,388.7) rotate(-90)" text-anchor="end">BRMU</text>
<text class="xt" transform="translate(166.7,388.7) rotate(-90)" text-anchor="end">BSHM</text>
<text class="xt" transform="translate(182.5,388.7) rotate(-90)" text-anchor="end">CAS1</text>
<text class="xt" transform="translate(198.4,388.7) rotate(-90)" text-anchor="end">DRAO</text>
<text class="xt" transform="translate(214.2,388.7) rotate(-90)" text-anchor="end">HERT</text>
<text class="xt" transform="translate(230.0,388.7) rotate(-90)" text-anchor="end">HOLM</text>
<text class="xt" transform="translate(245.8,388.7) rotate(-90)" text-anchor="end">ISPA</text>
<text class="xt" transform="translate(261.7,388.7) rotate(-90)" text-anchor="end">LCK?</text>
<text class="xt" transform="translate(277.5,388.7) rotate(-90)" text-anchor="end">MKEA</text>
<text class="xt" transform="translate(293.3,388.7) rotate(-90)" text-anchor="end">NKLG</text>
<text class="xt" transform="translate(309.2,388.7) rotate(-90)" text-anchor="end">NRIL</text>
<text class="xt" transform="translate(325.0,388.7) rotate(-90)" text-anchor="end">PARC</text>
<text class="xt" transform="translate(340.8,388.7) rotate(-90)" text-anchor="end">REYK</text>
<text class="xt" transform="translate(356.7,388.7) rotate(-90)" text-anchor="end">WROC</text>
<text class="xt" transform="translate(372.5,388.7) rotate(-90)" text-anchor="end">YSSK</text>
<text class="ax" transform="translate(174.5,449.6) scale(1,1.03)">Station name</text>
<text class="ax" transform="translate(13.7,352.0) rotate(-90) scale(1,1.07)">Station height [m]</text>
</svg></body></html>
